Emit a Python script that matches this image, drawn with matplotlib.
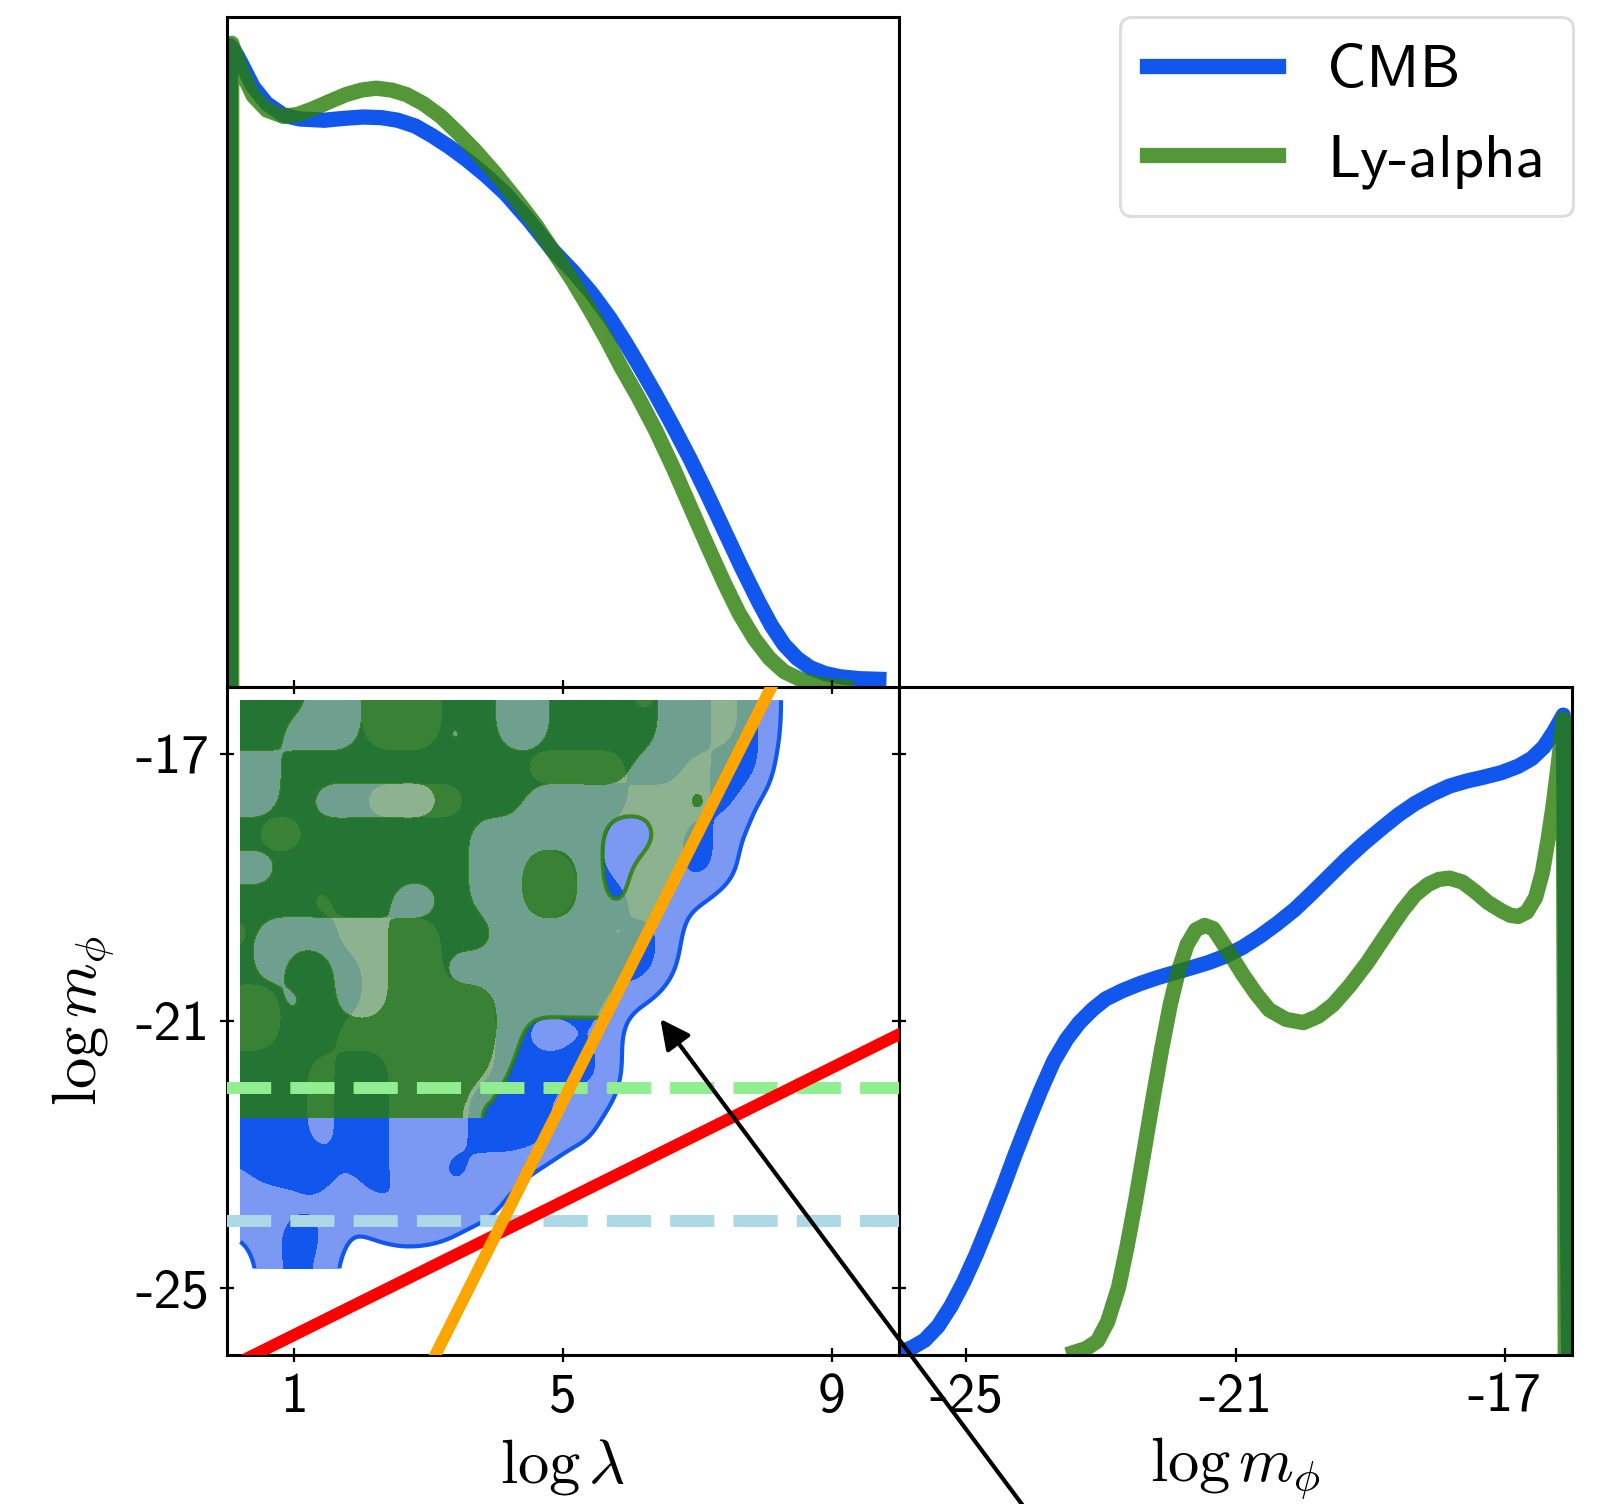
import numpy as np
import matplotlib
matplotlib.use("Agg")
import matplotlib.pyplot as plt

plt.rcParams['mathtext.fontset'] = 'cm'
TICKFONT = 'cmss10'

# ---------------- data ----------------
# 1D marginal of log lambda (top panel)
cmb_lam = [0.05, 0.05, 0.15, 0.24, 0.39, 0.59, 0.84, 1.08, 1.45, 1.75, 2.03, 2.30, 2.54, 2.80,
           3.05, 3.30, 3.56, 3.85, 4.14, 4.50, 4.84, 5.15, 5.42, 5.70, 5.93, 6.15, 6.38, 6.62,
           6.89, 7.15, 7.40, 7.65, 7.91, 8.10, 8.29, 8.48, 8.68, 8.90, 9.12, 9.40, 9.70]
cmb_lam_pdf = [0.0, 1.000, 0.985, 0.967, 0.936, 0.910, 0.892, 0.886, 0.884, 0.887, 0.889, 0.888,
               0.884, 0.875, 0.860, 0.843, 0.823, 0.798, 0.770, 0.727, 0.682, 0.648, 0.615,
               0.575, 0.537, 0.498, 0.456, 0.410, 0.356, 0.300, 0.244, 0.188, 0.133, 0.096,
               0.066, 0.045, 0.030, 0.021, 0.016, 0.013, 0.012]
lya_lam = [0.07, 0.07, 0.15, 0.24, 0.39, 0.59, 0.84, 1.05, 1.26, 1.50, 1.77, 2.00, 2.22, 2.45,
           2.67, 2.92, 3.18, 3.43, 3.69, 4.00, 4.33, 4.60, 4.84, 5.13, 5.42, 5.65, 5.86, 6.12,
           6.38, 6.64, 6.89, 7.15, 7.40, 7.62, 7.85, 8.07, 8.29, 8.55, 8.80, 9.20]
lya_lam_pdf = [0.0, 1.004, 0.980, 0.955, 0.922, 0.900, 0.890, 0.893, 0.901, 0.912, 0.924, 0.931,
               0.934, 0.931, 0.924, 0.910, 0.890, 0.865, 0.837, 0.800, 0.757, 0.720, 0.682,
               0.636, 0.585, 0.542, 0.500, 0.452, 0.400, 0.342, 0.282, 0.220, 0.162, 0.115,
               0.075, 0.045, 0.024, 0.011, 0.004, 0.0]

# 1D marginal of log m_phi (bottom-right panel)
cmb_m = [-26.00, -25.80, -25.62, -25.42, -25.23, -25.04, -24.85, -24.66, -24.47, -24.28, -24.08,
         -23.89, -23.70, -23.51, -23.32, -23.12, -22.93, -22.68, -22.42, -22.17, -21.91, -21.65,
         -21.40, -21.15, -20.89, -20.64, -20.38, -20.12, -19.87, -19.61, -19.35, -19.10, -18.84,
         -18.58, -18.33, -18.07, -17.82, -17.56, -17.31, -17.05, -16.80, -16.60, -16.42, -16.27,
         -16.13, -16.05]
cmb_m_pdf = [0.003, 0.012, 0.023, 0.045, 0.076, 0.114, 0.158, 0.207, 0.258, 0.312, 0.366, 0.415,
             0.460, 0.494, 0.520, 0.541, 0.557, 0.570, 0.581, 0.590, 0.598, 0.606, 0.614, 0.624,
             0.638, 0.655, 0.675, 0.697, 0.722, 0.749, 0.776, 0.800, 0.823, 0.845, 0.863, 0.878,
             0.890, 0.898, 0.904, 0.911, 0.921, 0.933, 0.951, 0.975, 1.001, 0.0]
lya_m = [-23.40, -23.22, -23.05, -22.90, -22.74, -22.62, -22.49, -22.36, -22.23, -22.10, -21.97,
         -21.85, -21.72, -21.59, -21.46, -21.33, -21.21, -21.05, -20.89, -20.70, -20.50, -20.25,
         -19.99, -19.77, -19.55, -19.30, -19.04, -18.78, -18.52, -18.33, -18.14, -17.98, -17.82,
         -17.63, -17.44, -17.25, -17.05, -16.92, -16.80, -16.67, -16.54, -16.44, -16.35, -16.28,
         -16.22, -16.17, -16.13, -16.10]
lya_m_pdf = [0.004, 0.010, 0.022, 0.052, 0.105, 0.165, 0.238, 0.318, 0.399, 0.477, 0.548, 0.600,
             0.642, 0.665, 0.672, 0.667, 0.648, 0.622, 0.595, 0.566, 0.540, 0.525, 0.520, 0.530,
             0.548, 0.578, 0.614, 0.655, 0.695, 0.720, 0.736, 0.744, 0.746, 0.740, 0.725, 0.708,
             0.695, 0.688, 0.686, 0.693, 0.716, 0.755, 0.810, 0.860, 0.910, 0.955, 0.995, 0.0]

# 2D credible-region maps (2 = 68%, 1 = 95%, 0 = outside)
grid_lam = [0.2, 0.6, 1.0, 1.4, 1.8, 2.2, 2.6, 3.0, 3.4, 3.8, 4.2, 4.6, 5.0, 5.4, 5.8, 6.2, 6.6,
            7.0, 7.4, 7.8, 8.2, 8.6, 9.0]
cmb_grid_m = [-16.2, -16.7, -17.2, -17.7, -18.2, -18.7, -19.2, -19.7, -20.2, -20.7, -21.2, -21.7,
              -22.2, -22.7, -23.2, -23.7, -24.2, -24.7]
cmb_levels = [
    [2, 2, 2, 2, 2, 1, 1, 1, 2, 2, 2, 2, 2, 2, 2, 1, 2, 2, 1, 2, 0.45, 0, 0],
    [2, 2, 2, 2, 2, 1, 1, 1, 2, 2, 2, 2, 2, 2, 2, 2, 2, 2, 1, 2, 0.4, 0, 0],
    [2, 2, 2, 2, 2, 2, 2, 2, 2, 2, 2, 1, 1, 1, 1, 2, 2, 1, 2, 2, 0.1, 0, 0],
    [2, 2, 2, 2, 2, 1, 1, 1, 1, 2, 2, 2, 2, 2, 2, 1, 1, 1, 2, 0.6, 0, 0, 0],
    [2, 1, 1, 2, 2, 2, 2, 2, 2, 2, 2, 2, 2, 2, 1, 1, 1, 2, 1, 0.3, 0, 0, 0],
    [2, 2, 2, 2, 2, 2, 2, 2, 2, 2, 2, 1, 1, 2, 1, 1, 1, 2, 1, 0, 0, 0, 0],
    [2, 2, 2, 1, 2, 2, 2, 2, 2, 2, 2, 1, 1, 2, 2, 1, 1, 0.6, 0, 0, 0, 0, 0],
    [1, 2, 2, 2, 1, 1, 1, 1, 2, 2, 2, 2, 2, 2, 1, 2, 0.9, 0, 0, 0, 0, 0, 0],
    [2, 2, 2, 2, 2, 1, 1, 1, 2, 2, 2, 1, 2, 2, 2, 2, 0.6, 0, 0, 0, 0, 0, 0],
    [1, 1, 2, 2, 2, 1, 1, 1, 1, 1, 2, 2, 2, 2, 1, 0.5, 0, 0, 0, 0, 0, 0, 0],
    [1, 1, 2, 2, 1, 1, 1, 1, 1, 1, 2, 1, 1, 1.5, 0.6, 0, 0, 0, 0, 0, 0, 0, 0],
    [2, 2, 2, 1, 2, 2, 1, 1, 1, 1, 2, 2, 2, 2, 0.6, 0, 0, 0, 0, 0, 0, 0, 0],
    [2, 2, 2, 1, 2, 2, 1, 1, 1, 2, 2, 2, 1, 1, 0.35, 0, 0, 0, 0, 0, 0, 0, 0],
    [2, 2, 2, 1, 2, 2, 1, 1, 1, 2, 2, 2, 1, 0.6, 0, 0, 0, 0, 0, 0, 0, 0, 0],
    [1.4, 2, 2, 2, 1.4, 2, 1, 1, 2, 1, 1, 0.45, 0, 0, 0, 0, 0, 0, 0, 0, 0, 0, 0],
    [1, 1, 1.2, 1.3, 1, 1.4, 1.6, 1, 1, 1, 0.4, 0, 0, 0, 0, 0, 0, 0, 0, 0, 0, 0, 0],
    [0.5, 1, 2, 1.6, 0.45, 0.6, 0.8, 0.75, 0.55, 0.2, 0, 0, 0, 0, 0, 0, 0, 0, 0, 0, 0, 0, 0],
    [0.2, 0.7, 2, 1.1, 0.1, 0, 0, 0, 0, 0, 0, 0, 0, 0, 0, 0, 0, 0, 0, 0, 0, 0, 0],
]
lya_grid_m = [-16.2, -16.7, -17.2, -17.7, -18.2, -18.7, -19.2, -19.7, -20.2, -20.7, -21.2, -21.7,
              -22.2, -22.45]
lya_levels = [
    [2, 2, 2, 1, 1, 2, 2, 2, 2, 2, 1, 1, 2, 2, 2, 2, 1, 1, 1, 1, 1, 1, 1],
    [2, 2, 1, 1, 1, 2, 2, 2, 1, 2, 1, 1, 2, 2, 2, 2, 1, 1, 1, 1, 1, 1, 1],
    [1, 1, 2, 2, 2, 2, 2, 2, 2, 2, 2, 2, 2, 2, 2, 1, 1, 1, 1, 1, 1, 1, 1],
    [1, 1, 2, 1, 1, 1, 1, 1, 2, 2, 2, 1, 1, 1, 1, 1, 1, 2, 1, 1, 1, 1, 1],
    [2, 2, 2, 2, 2, 2, 2, 2, 2, 1, 1, 1, 1, 1, 0, 0, 1, 1, 1, 1, 1, 1, 1],
    [1, 1, 2, 2, 2, 2, 2, 2, 2, 1, 1, 2, 2, 1, 0, 1, 1, 1, 1, 1, 1, 1, 1],
    [2, 2, 2, 2, 2, 2, 1, 1, 2, 1, 1, 2, 2, 1, 0.3, 1, 1, 1, 1, 1, 1, 1, 1],
    [2, 1, 1, 1, 1, 1, 2, 2, 2, 2, 1, 1, 1, 1, 1, 1, 1, 1, 1, 1, 1, 1, 1],
    [2, 1, 2, 2, 1, 1, 2, 2, 1, 1, 1, 1, 1, 1, 1, 1, 1, 1, 1, 1, 1, 1, 1],
    [2, 2, 1, 2, 1, 1, 2, 2, 2, 2, 1, 1, 1, 1, 1, 1, 1, 1, 1, 1, 1, 1, 1],
    [2, 2, 2, 2, 2, 2, 2, 2, 2, 2, 1, 0, 0, 0, 0, 0, 0, 0, 0, 0, 0, 0, 0],
    [2, 2, 2, 2, 2, 2, 2, 2, 2, 2, 0.4, 0, 0, 0, 0, 0, 0, 0, 0, 0, 0, 0, 0],
    [2, 2, 2, 2, 2, 2, 2, 2, 2, 0.6, 0, 0, 0, 0, 0, 0, 0, 0, 0, 0, 0, 0, 0],
    [2, 2, 2, 2, 2, 2, 2, 2, 2, 0.3, 0, 0, 0, 0, 0, 0, 0, 0, 0, 0, 0, 0, 0],
]

# reference lines in the (log lambda, log m_phi) plane
orange_slope, orange_icpt = 2.0, -32.2
red_slope, red_icpt = 0.5, -26.2
lya_bound_m = -22.0
cmb_bound_m = -24.0

# annotation arrow (tip, tail) in data coordinates of the 2D panel
arrow_tip = (6.45, -20.97)
arrow_tail = (12.1, -28.6)

series_labels = ['CMB', 'Ly-alpha']
lam_ticks = [1, 5, 9]
m_ticks = [-17, -21, -25]

# ---------------- styles ----------------
CMB_C = '#1157ee'
CMB_LIGHT = '#7b99f2'
LYA_C = '#297d06'
LYA_A = 0.8
LYA_OUTER = '#96be67'
LYA_OUTER_A = 0.7
LW_1D = 11
LW_REF = 8.6


def cr_weights(n, f):
    N = (n - 1) * f + 1
    W = np.zeros((N, n))
    for i in range(N):
        s = i / f
        k = min(int(np.floor(s)), n - 2)
        t = s - k
        w = [(-t**3 + 2 * t**2 - t) / 2, (3 * t**3 - 5 * t**2 + 2) / 2,
             (-3 * t**3 + 4 * t**2 + t) / 2, (t**3 - t**2) / 2]
        for j, wj in zip([k - 1, k, k + 1, k + 2], w):
            W[i, min(max(j, 0), n - 1)] += wj
    return W


def blur1d(Z, sigma, axis):
    r = int(3 * sigma)
    k = np.exp(-0.5 * (np.arange(-r, r + 1) / sigma) ** 2)
    k /= k.sum()
    Zp = np.moveaxis(Z, axis, -1)
    Zp = np.concatenate([np.repeat(Zp[..., :1], r, -1), Zp, np.repeat(Zp[..., -1:], r, -1)], -1)
    out = np.apply_along_axis(lambda v: np.convolve(v, k, mode='valid'), -1, Zp)
    return np.moveaxis(out, -1, axis)


def smooth_field(xn, yn, Z, f=16, sig=7.0):
    xn = np.asarray(xn, float)
    yn = np.asarray(yn, float)
    Z = np.asarray(Z, float)
    if yn[0] > yn[-1]:
        yn, Z = yn[::-1], Z[::-1]
    Wx = cr_weights(len(xn), f)
    Wy = cr_weights(len(yn), f)
    Zf = Wy @ Z @ Wx.T
    Zf = blur1d(blur1d(Zf, sig, 0), sig, 1)
    xf = np.interp(np.arange(Wx.shape[0]) / f, np.arange(len(xn)), xn)
    yf = np.interp(np.arange(Wy.shape[0]) / f, np.arange(len(yn)), yn)
    return xf, yf, Zf


# ---------------- figure ----------------
fig = plt.figure(figsize=(16.03, 15.04), dpi=100)
FW, FH = 1603.0, 1504.0
x0, x1, x2 = 227 / FW, 899 / FW, 1572 / FW
yb, ym, yt = 1 - 1355 / FH, 1 - 687 / FH, 1 - 17 / FH

ax_top = fig.add_axes([x0, ym, x1 - x0, yt - ym])
ax_br = fig.add_axes([x1, yb, x2 - x1, ym - yb])
ax = fig.add_axes([x0, yb, x1 - x0, ym - yb])
ax.set_zorder(5)
ax.patch.set_alpha(0.0)

for a in (ax, ax_top, ax_br):
    for sp in a.spines.values():
        sp.set_linewidth(2.2)

# top panel
l1, = ax_top.plot(cmb_lam, cmb_lam_pdf, color=CMB_C, lw=LW_1D, label=series_labels[0],
                  solid_joinstyle='round')
l2, = ax_top.plot(lya_lam, lya_lam_pdf, color=LYA_C, alpha=LYA_A, lw=LW_1D,
                  label=series_labels[1], solid_joinstyle='round')
ax_top.set_xlim(0, 10)
ax_top.set_ylim(0, 1.045)
ax_top.set_xticks([])
ax_top.set_yticks([])

# bottom-right panel
ax_br.plot(cmb_m, cmb_m_pdf, color=CMB_C, lw=LW_1D, solid_joinstyle='round')
ax_br.plot(lya_m, lya_m_pdf, color=LYA_C, alpha=LYA_A, lw=LW_1D, solid_joinstyle='round')
ax_br.set_xlim(-26, -16)
ax_br.set_ylim(0, 1.045)
ax_br.set_yticks([])
ax_br.set_xticks(m_ticks[::-1], labels=[str(v) for v in m_ticks[::-1]])
ax_br.tick_params(axis='x', direction='inout', length=9.4, width=1.6, pad=8,
                  labelsize=40, labelfontfamily=TICKFONT)
ax_br.set_xlabel(r'$\log m_\phi$', fontsize=45, labelpad=9)

# 2D panel
lx, ly, Bf = smooth_field(grid_lam, cmb_grid_m, cmb_levels)
ax.contourf(lx, ly, Bf, levels=[0.5, 1.5], colors=[CMB_LIGHT], zorder=1)
ax.contourf(lx, ly, Bf, levels=[1.5, 10], colors=[CMB_C], zorder=1)
ax.contour(lx, ly, Bf, levels=[0.5], colors=[CMB_C], linewidths=3, zorder=1.5)

gx, gy, Gf = smooth_field(grid_lam, lya_grid_m, lya_levels)
GX, GY = np.meshgrid(gx, gy)
Gf = np.where(GY < orange_slope * GX + orange_icpt, 0.0, Gf)
ax.contourf(gx, gy, Gf, levels=[0.5, 1.5], colors=[LYA_OUTER], alpha=LYA_OUTER_A, zorder=2)
ax.contourf(gx, gy, Gf, levels=[1.5, 10], colors=[LYA_C], alpha=LYA_A, zorder=2)
ax.contour(gx, gy, Gf, levels=[0.5], colors=[LYA_C], alpha=LYA_A, linewidths=3, zorder=2.5)

ax.axhline(lya_bound_m, color='lightgreen', ls='--', lw=LW_REF, zorder=3)
ax.axhline(cmb_bound_m, color='lightblue', ls='--', lw=LW_REF, zorder=3)
xx = np.array([0.0, 10.0])
ax.plot(xx, red_slope * xx + red_icpt, color='red', lw=LW_REF, zorder=3.5)
ax.plot(xx, orange_slope * xx + orange_icpt, color='orange', lw=LW_REF, zorder=4)

ax.annotate('', xy=arrow_tip, xytext=arrow_tail, annotation_clip=False,
            arrowprops=dict(arrowstyle='-|>', color='k', lw=3, mutation_scale=45,
                            shrinkA=0, shrinkB=0), zorder=6)

ax.set_xlim(0, 10)
ax.set_ylim(-26, -16)
ax.set_xticks(lam_ticks, labels=[str(v) for v in lam_ticks])
ax.set_yticks(m_ticks, labels=[str(v) for v in m_ticks])
ax.tick_params(direction='inout', length=9.4, width=1.6, pad=8, top=True, right=True,
               labelsize=40, labelfontfamily=TICKFONT)
ax.set_xlabel(r'$\log\lambda$', fontsize=45, labelpad=10)
ax.set_ylabel(r'$\log m_\phi$', fontsize=45, labelpad=14)

leg = fig.legend(handles=[l1, l2], loc='upper right', bbox_to_anchor=(1573 / FW, 1 - 17 / FH),
                 borderaxespad=0, prop={'family': TICKFONT, 'size': 44}, handlelength=2.15,
                 handletextpad=0.8, labelspacing=0.56, borderpad=0.45, fancybox=True)
leg.get_frame().set_linewidth(2.2)
leg.get_frame().set_edgecolor('#d5d5d5')

fig.savefig('out.png', dpi=100)
